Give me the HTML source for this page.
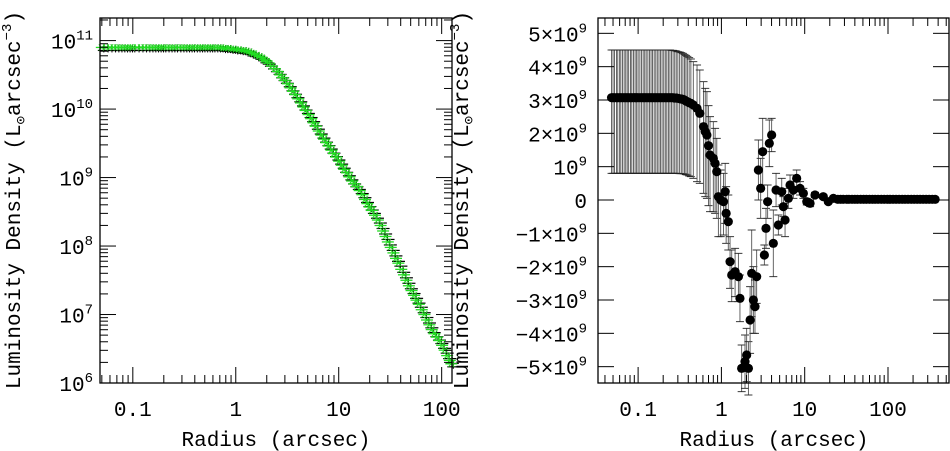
<!DOCTYPE html>
<html><head><meta charset="utf-8"><style>
html,body{margin:0;padding:0;background:#fff;}
svg{display:block;font-family:"Liberation Mono","DejaVu Sans Mono",monospace;}
</style></head><body>
<svg id="fig" width="950" height="451" viewBox="0 0 950 451" xmlns="http://www.w3.org/2000/svg">
<g id="left"></g>
<g id="right"></g>
</svg>
<script>
// ---- Left panel data: radius (arcsec) and log10 luminosity density
const leftRadius=[0.05,0.055,0.06,0.065,0.07,0.075,0.08,0.085,0.09,0.095,0.1,0.11,0.12,0.13,0.14,0.15,0.16,0.17,0.18,0.19,0.2,0.215,0.23,0.245,0.26,0.28,0.3,0.32,0.34,0.36,0.38,0.405,0.43,0.455,0.48,0.51,0.54,0.57,0.6,0.64,0.68,0.72,0.76,0.8,0.85,0.9,0.95,1.0,1.07,1.13,1.2,1.27,1.35,1.42,1.5,1.6,1.7,1.8,1.9,2.0,2.1,2.25,2.4,2.55,2.7,2.85,3.0,3.2,3.4,3.6,3.8,4.05,4.3,4.55,4.8,5.1,5.4,5.7,6.0,6.4,6.8,7.2,7.6,8.0,8.5,9.0,9.5,10.1,10.7,11.3,12,12.7,13.5,14.2,15,16,17,18,19,20,21,22.5,24,25.5,27,28.5,30,32,34,36,38,40.5,43,45.5,48,51,54,57,60,64,68,72,76,80,85,90,95,101,107,113,120,124];
const leftLogL=[10.90,10.90,10.90,10.90,10.90,10.90,10.90,10.90,10.90,10.90,10.90,10.90,10.90,10.90,10.90,10.90,10.90,10.90,10.90,10.90,10.90,10.90,10.90,10.90,10.90,10.90,10.90,10.90,10.90,10.90,10.90,10.90,10.90,10.90,10.90,10.90,10.90,10.90,10.90,10.90,10.90,10.90,10.89,10.89,10.89,10.88,10.88,10.87,10.87,10.86,10.86,10.85,10.84,10.82,10.81,10.79,10.77,10.75,10.72,10.70,10.67,10.63,10.59,10.55,10.50,10.46,10.42,10.37,10.31,10.26,10.21,10.15,10.09,10.03,9.98,9.92,9.86,9.80,9.75,9.68,9.62,9.56,9.51,9.46,9.40,9.35,9.30,9.24,9.18,9.12,9.07,9.01,8.95,8.91,8.87,8.81,8.75,8.68,8.62,8.57,8.52,8.45,8.38,8.30,8.22,8.14,8.06,7.98,7.90,7.82,7.75,7.66,7.58,7.50,7.42,7.35,7.28,7.21,7.15,7.07,7.00,6.92,6.85,6.78,6.72,6.67,6.62,6.55,6.48,6.40,6.33,6.28];
const leftYTicks=[6,7,8,9,10,11];
const xTickLabels=["0.1","1","10","100"];
// ---- Right panel data: radius (arcsec), residual density (1e9 units), upper / lower errors (1e9 units)
const rightRadius=[0.048,0.050,0.052,0.055,0.057,0.060,0.062,0.065,0.068,0.071,0.074,0.077,0.081,0.084,0.088,0.092,0.096,0.100,0.105,0.110,0.115,0.120,0.125,0.131,0.137,0.143,0.149,0.156,0.163,0.170,0.178,0.186,0.194,0.203,0.212,0.221,0.231,0.241,0.252,0.263,0.275,0.287,0.30,0.315,0.33,0.345,0.36,0.375,0.39,0.41,0.43,0.46,0.51,0.55,0.61,0.64,0.67,0.70,0.73,0.80,0.84,0.88,0.92,0.98,1.06,1.11,1.14,1.21,1.27,1.33,1.46,1.60,1.67,1.75,1.92,2.01,2.11,2.21,2.31,2.42,2.53,2.65,2.78,2.96,3.13,3.28,3.43,3.59,3.76,4.01,4.20,4.53,4.83,5.30,5.55,5.81,6.37,6.67,7.31,8.01,8.79,9.64,10.6,11.6,13.3,16.7,19.2,22.1,25,27,29,32,34,37,40,43,47,51,55,60,65,70,76,83,90,98,106,115,125,136,148,160,174,190,206,224,243,264,287,312,340,368];
const rightValue=[3.07,3.07,3.07,3.07,3.07,3.07,3.07,3.07,3.07,3.07,3.07,3.07,3.07,3.07,3.07,3.07,3.07,3.07,3.07,3.07,3.07,3.07,3.07,3.07,3.07,3.07,3.07,3.07,3.07,3.07,3.07,3.07,3.07,3.07,3.07,3.07,3.07,3.07,3.07,3.07,3.06,3.06,3.05,3.04,3.03,3.02,3.0,2.97,2.95,2.92,2.9,2.85,2.75,2.6,2.2,2.05,1.95,1.63,1.35,1.25,1.1,0.85,0.1,0,-0.05,0.25,-0.4,-0.65,-1.85,-2.25,-2.15,-2.3,-2.95,-5.05,-4.85,-4.65,-5.05,-3.6,-2.2,-3.0,-3.2,-2.3,0.9,0.35,1.45,-1.65,-0.85,-0.05,1.7,1.95,-1.3,0.3,-0.75,0.25,-0.2,-0.6,0.05,0.45,0.3,0.65,0.35,0.2,-0.05,-0.1,0.15,0.1,-0.05,0.05,0.02,0.02,0.02,0.02,0.02,0.02,0.02,0.02,0.02,0.02,0.02,0.02,0.02,0.02,0.02,0.02,0.02,0.02,0.02,0.02,0.02,0.02,0.02,0.02,0.02,0.02,0.02,0.02,0.02,0.02,0.02,0.02,0.02,0.02];
const rightErrUp=[1.43,1.43,1.43,1.43,1.43,1.43,1.43,1.43,1.43,1.43,1.43,1.43,1.43,1.43,1.43,1.43,1.43,1.43,1.43,1.43,1.43,1.43,1.43,1.43,1.43,1.43,1.43,1.43,1.43,1.43,1.43,1.43,1.43,1.43,1.43,1.43,1.43,1.43,1.42,1.42,1.42,1.41,1.40,1.40,1.39,1.38,1.37,1.37,1.36,1.35,1.33,1.3,1.3,1.3,1.35,1.3,1.3,1.2,1.15,1.1,1.05,1.0,0.95,0.9,0.85,0.85,0.8,0.8,0.75,0.75,0.7,0.7,0.7,0.7,0.8,0.8,0.8,1.0,1.3,1.0,0.8,0.8,0.9,0.9,1.0,0.3,0.6,0.5,0.7,0.5,1.0,0.5,0.3,0.4,0.3,0.5,0.3,0.3,0.25,0.25,0.2,0.15,0.1,0.1,0.08,0.06,0.05,0.04,0.03,0.03,0.03,0.03,0.03,0.03,0.03,0.03,0.03,0.03,0.03,0.03,0.03,0.03,0.03,0.03,0.03,0.03,0.03,0.03,0.03,0.03,0.03,0.03,0.03,0.03,0.03,0.03,0.03,0.03,0.03,0.03,0.03,0.03];
const rightErrDown=[2.27,2.27,2.27,2.27,2.27,2.27,2.27,2.27,2.27,2.27,2.27,2.27,2.27,2.27,2.27,2.27,2.27,2.27,2.27,2.27,2.27,2.27,2.27,2.27,2.27,2.27,2.27,2.27,2.27,2.27,2.27,2.27,2.27,2.27,2.27,2.27,2.27,2.27,2.27,2.27,2.26,2.26,2.25,2.25,2.24,2.23,2.22,2.21,2.2,2.2,2.2,2.2,2.2,2.1,2.0,1.95,1.9,1.8,1.7,1.6,1.5,1.4,1.2,1.1,1.0,0.95,0.9,0.85,0.8,0.8,0.75,0.75,0.7,0.7,0.8,0.8,0.8,1.0,1.3,1.0,0.8,0.8,0.9,0.9,1.0,0.3,0.6,0.5,0.7,0.5,1.0,0.5,0.3,0.4,0.3,0.5,0.3,0.3,0.25,0.25,0.2,0.15,0.1,0.1,0.08,0.06,0.05,0.04,0.03,0.03,0.03,0.03,0.03,0.03,0.03,0.03,0.03,0.03,0.03,0.03,0.03,0.03,0.03,0.03,0.03,0.03,0.03,0.03,0.03,0.03,0.03,0.03,0.03,0.03,0.03,0.03,0.03,0.03,0.03,0.03,0.03,0.03];
const rightYTicks=[-5,-4,-3,-2,-1,0,1,2,3,4,5];

const NS="http://www.w3.org/2000/svg";
function mk(parent,tag,attrs){const e=document.createElementNS(NS,tag);for(const k in attrs)e.setAttribute(k,attrs[k]);parent.appendChild(e);return e;}

// ---------------- LEFT ----------------
const L=document.getElementById('left');
const lx0=100,lx1=452,ly0=18,ly1=383;
const lxLogMin=Math.log10(0.048),lxLogMax=Math.log10(126);
const lyMin=6,lyMax=11.33;
function lxs(r){return lx0+(Math.log10(r)-lxLogMin)/(lxLogMax-lxLogMin)*(lx1-lx0);}
function lys(v){return ly1-(v-lyMin)/(lyMax-lyMin)*(ly1-ly0);}

for(let i=0;i<leftRadius.length;i++){
  const x=lxs(leftRadius[i]),y=lys(leftLogL[i]);
  const g=mk(L,'g',{});
  
  
  mk(g,'line',{x1:x-4,x2:x+9,y1:y+3,y2:y+3,stroke:'#000','stroke-width':1.2});
  mk(g,'line',{x1:x+2,x2:x+2,y1:y-3,y2:y+5,stroke:'#000','stroke-width':1});
  mk(g,'line',{x1:x-6,x2:x+6,y1:y,y2:y,stroke:'#22dd22','stroke-width':1.3});
  mk(g,'line',{x1:x-3,x2:x+3,y1:y-3,y2:y+3,stroke:'#22dd22','stroke-width':1});
  mk(g,'line',{x1:x-3,x2:x+3,y1:y+3,y2:y-3,stroke:'#22dd22','stroke-width':1});
}
const lf=mk(L,'rect',{x:lx0,y:ly0,width:lx1-lx0,height:ly1-ly0,fill:'none',stroke:'#000','stroke-width':1.3});


for(let d=-2;d<=2;d++){for(let m=1;m<10;m++){const r=m*Math.pow(10,d);if(r<0.048||r>126)continue;const x=lxs(r);const len=m===1?16:8;
  mk(L,'line',{x1:x,x2:x,y1:ly1,y2:ly1-len,stroke:'#000','stroke-width':1});
  mk(L,'line',{x1:x,x2:x,y1:ly0,y2:ly0+len,stroke:'#000','stroke-width':1});}}
xTickLabels.forEach(t=>{const x=lxs(parseFloat(t));const e=mk(L,'text',{x:x,y:416,'text-anchor':'middle','font-size':21});e.textContent=t;
  });
for(let d=6;d<=11;d++){for(let m=1;m<10;m++){const v=d+Math.log10(m);if(v>lyMax)continue;const y=lys(v);const len=m===1?16:8;
  mk(L,'line',{x1:lx0,x2:lx0+len,y1:y,y2:y,stroke:'#000','stroke-width':1});
  mk(L,'line',{x1:lx1,x2:lx1-len,y1:y,y2:y,stroke:'#000','stroke-width':1});}}
leftYTicks.forEach(p=>{const y=lys(p);const e=mk(L,'text',{x:93,y:y+8,'text-anchor':'end','font-size':21});
  e.innerHTML='10<tspan dy="-9" font-size="14">'+p+'</tspan>';
  });
const lxt=mk(L,'text',{x:276,y:446,'text-anchor':'middle','font-size':21});lxt.textContent='Radius (arcsec)';

const lyt=mk(L,'text',{x:0,y:0,'text-anchor':'middle','font-size':21,transform:'translate(20,200) rotate(-90)'});
lyt.innerHTML='Luminosity Density (L<tspan dy="5" font-size="14">\u2299</tspan><tspan dy="-5">arcsec</tspan><tspan dy="-9" font-size="14">\u22123</tspan><tspan dy="9">)</tspan>';


// ---------------- RIGHT ----------------
const R=document.getElementById('right');
const rx0=598,rx1=949,ry0=18,ry1=383;
const rxLogMin=Math.log10(0.033),rxLogMax=Math.log10(540);
const ryMin=-5.49,ryMax=5.46;
function rxs(r){return rx0+(Math.log10(r)-rxLogMin)/(rxLogMax-rxLogMin)*(rx1-rx0);}
function rys(v){return ry1-(v-ryMin)/(ryMax-ryMin)*(ry1-ry0);}
for(let i=0;i<rightRadius.length;i++){
  const x=rxs(rightRadius[i]),yt=rys(rightValue[i]+rightErrUp[i]),yb=rys(rightValue[i]-rightErrDown[i]);
  const g=mk(R,'g',{});
  
  
  mk(g,'line',{x1:x,x2:x,y1:yt,y2:yb,stroke:'#555','stroke-width':0.9});
  mk(g,'line',{x1:x-4,x2:x+4,y1:yt,y2:yt,stroke:'#222','stroke-width':0.9});
  mk(g,'line',{x1:x-4,x2:x+4,y1:yb,y2:yb,stroke:'#222','stroke-width':0.9});
}
for(let i=0;i<rightRadius.length;i++){
  const c=mk(R,'circle',{cx:rxs(rightRadius[i]),cy:rys(rightValue[i]),r:4.6,fill:'#000'});
  
  
}
const rf=mk(R,'rect',{x:rx0,y:ry0,width:rx1-rx0,height:ry1-ry0,fill:'none',stroke:'#000','stroke-width':1.3});


for(let d=-2;d<=2;d++){for(let m=1;m<10;m++){const r=m*Math.pow(10,d);if(r<0.033||r>540)continue;const x=rxs(r);const len=m===1?16:8;
  mk(R,'line',{x1:x,x2:x,y1:ry1,y2:ry1-len,stroke:'#000','stroke-width':1});
  mk(R,'line',{x1:x,x2:x,y1:ry0,y2:ry0+len,stroke:'#000','stroke-width':1});}}
xTickLabels.forEach(t=>{const x=rxs(parseFloat(t));const e=mk(R,'text',{x:x,y:416,'text-anchor':'middle','font-size':21});e.textContent=t;
  });
rightYTicks.forEach(v=>{const y=rys(v);
  mk(R,'line',{x1:rx0,x2:rx0+16,y1:y,y2:y,stroke:'#000','stroke-width':1});
  mk(R,'line',{x1:rx1,x2:rx1-16,y1:y,y2:y,stroke:'#000','stroke-width':1});
  const e=mk(R,'text',{x:587,y:y+8,'text-anchor':'end','font-size':21});
  if(v===0)e.textContent='0';
  else if(v===1)e.innerHTML='10<tspan dy="-9" font-size="14">9</tspan>';
  else e.innerHTML=(v<0?'\u2212':'')+Math.abs(v)+'\u00d710<tspan dy="-9" font-size="14">9</tspan>';
  });
const rxt=mk(R,'text',{x:774,y:446,'text-anchor':'middle','font-size':21});rxt.textContent='Radius (arcsec)';

const ryt=mk(R,'text',{x:0,y:0,'text-anchor':'middle','font-size':21,transform:'translate(468,200) rotate(-90)'});
ryt.innerHTML='Luminosity Density (L<tspan dy="5" font-size="14">\u2299</tspan><tspan dy="-5">arcsec</tspan><tspan dy="-9" font-size="14">\u22123</tspan><tspan dy="9">)</tspan>';

</script>
</body></html>
